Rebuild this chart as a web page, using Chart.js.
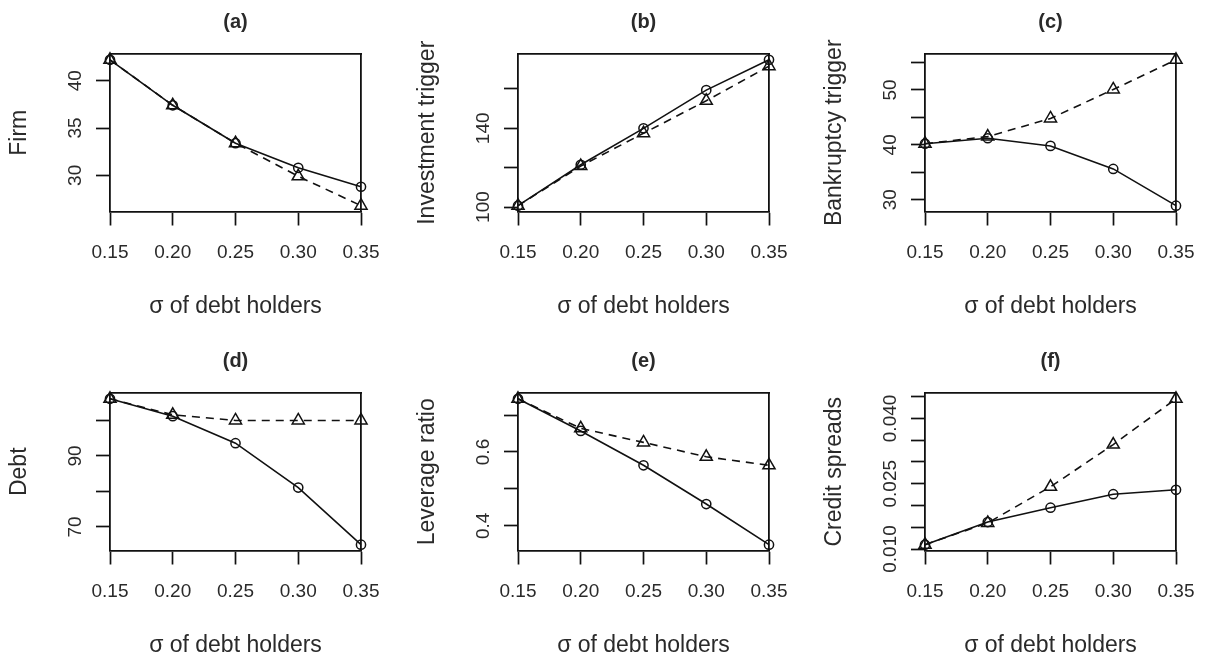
<!DOCTYPE html>
<html>
<head>
<meta charset="utf-8">
<script src="https://cdn.jsdelivr.net/npm/chart.js@4/dist/chart.umd.min.js"></script>
<style>
  body { margin:0; background:#fff; width:1205px; height:659px; overflow:hidden; position:relative; }
  canvas { position:absolute; }
</style>
</head>
<body>
<canvas id="pa" width="390" height="320" style="left:0;top:0"></canvas>
<canvas id="pb" width="390" height="320" style="left:408px;top:0"></canvas>
<canvas id="pc" width="390" height="320" style="left:815px;top:0"></canvas>
<canvas id="pd" width="390" height="320" style="left:0;top:339px"></canvas>
<canvas id="pe" width="390" height="320" style="left:408px;top:339px"></canvas>
<canvas id="pf" width="390" height="320" style="left:815px;top:339px"></canvas>
<script>
// sigma of debt holders (x) and the six panels, circles = solid line, triangles = dashed line
const sigma = [0.15, 0.20, 0.25, 0.30, 0.35];
const xTicks = [0.15, 0.20, 0.25, 0.30, 0.35];
const xTitle = 'σ of debt holders';

const firmSolid  = [42.2, 37.4, 33.4, 30.8, 28.8];
const firmDashed = [42.2, 37.4, 33.4, 29.9, 26.8];
const firmTicks  = [30, 35, 40];
const firmShown  = [30, 35, 40];

const invSolid  = [100.7, 121.5, 140.0, 159.4, 174.8];
const invDashed = [100.7, 120.8, 137.5, 154.0, 171.6];
const invTicks  = [100, 120, 140, 160];
const invShown  = [100, 140];

const bankSolid  = [40.2, 41.2, 39.8, 35.6, 28.9];
const bankDashed = [40.2, 41.5, 44.8, 50.1, 55.5];
const bankTicks  = [30, 35, 40, 45, 50, 55];
const bankShown  = [30, 40, 50];

const debtSolid  = [106.1, 101.2, 93.6, 81.1, 65.0];
const debtDashed = [106.1, 101.6, 100.0, 100.0, 100.0];
const debtTicks  = [70, 80, 90, 100];
const debtShown  = [70, 90];

const levSolid  = [0.744, 0.657, 0.564, 0.459, 0.349];
const levDashed = [0.744, 0.664, 0.626, 0.587, 0.564];
const levTicks  = [0.4, 0.5, 0.6, 0.7];
const levShown  = [0.4, 0.6];

const csSolid  = [0.0110, 0.0162, 0.0195, 0.0226, 0.0236];
const csDashed = [0.0110, 0.0160, 0.0243, 0.0340, 0.0445];
const csTicks  = [0.010, 0.015, 0.020, 0.025, 0.030, 0.035, 0.040, 0.045];
const csShown  = [0.010, 0.025, 0.040];

const FONT = "'Liberation Sans', Arial, sans-serif";
const INK = '#111';
const TXT = '#2a2a2a';
Chart.defaults.font.family = FONT;

const panels = [
  { id:'pa', title:'(a)', yTitle:'Firm',               solid:firmSolid, dashed:firmDashed, ticks:firmTicks, shown:firmShown, dec:0 },
  { id:'pb', title:'(b)', yTitle:'Investment trigger', solid:invSolid,  dashed:invDashed,  ticks:invTicks,  shown:invShown,  dec:0 },
  { id:'pc', title:'(c)', yTitle:'Bankruptcy trigger', solid:bankSolid, dashed:bankDashed, ticks:bankTicks, shown:bankShown, dec:0 },
  { id:'pd', title:'(d)', yTitle:'Debt',               solid:debtSolid, dashed:debtDashed, ticks:debtTicks, shown:debtShown, dec:0 },
  { id:'pe', title:'(e)', yTitle:'Leverage ratio',     solid:levSolid,  dashed:levDashed,  ticks:levTicks,  shown:levShown,  dec:1 },
  { id:'pf', title:'(f)', yTitle:'Credit spreads',     solid:csSolid,   dashed:csDashed,   ticks:csTicks,   shown:csShown,   dec:3 }
];

const meas = document.createElement('canvas').getContext('2d');
meas.font = '19px ' + FONT;

const near = (a, b) => Math.abs(a - b) < 1e-9;

function drawPanel(p) {
  const all = p.solid.concat(p.dashed);
  const lo = Math.min(...all), hi = Math.max(...all);
  const pad = 0.04 * (hi - lo);               // R style axis extension
  const fmt = v => p.shown.some(s => near(s, v)) ? v.toFixed(p.dec) : '';
  const widest = Math.max(...p.shown.map(v => meas.measureText(v.toFixed(p.dec)).width));

  return new Chart(document.getElementById(p.id), {
    type: 'line',
    data: {
      datasets: [
        { data: sigma.map((x, i) => ({ x, y: p.solid[i] })), borderColor: INK, borderWidth: 1.6,
          pointStyle: 'circle', pointRadius: 4.6, pointBorderWidth: 1.5, pointBorderColor: INK,
          pointBackgroundColor: 'rgba(0,0,0,0)', clip: false },
        { data: sigma.map((x, i) => ({ x, y: p.dashed[i] })), borderColor: INK, borderWidth: 1.6, borderDash: [8, 6],
          pointStyle: 'triangle', pointRadius: 7, pointBorderWidth: 1.5, pointBorderColor: INK,
          pointBackgroundColor: 'rgba(0,0,0,0)', clip: false }
      ]
    },
    options: {
      responsive: false, animation: false, events: [],
      layout: { padding: { left: 0, right: 29, top: 0, bottom: 0 } },
      plugins: {
        legend: { display: false }, tooltip: { enabled: false },
        title: { display: true, text: p.title, fullSize: false, color: TXT,
                 font: { size: 20, weight: 'bold', lineHeight: 1.2 }, padding: { top: 10, bottom: 20 } }
      },
      scales: {
        x: {
          type: 'linear', min: 0.15, max: 0.35,
          afterBuildTicks: s => { s.ticks = xTicks.map(v => ({ value: v })); },
          afterFit: s => { s.height = 108.5; s.paddingLeft = 0; s.paddingRight = 0; },
          grid: { drawOnChartArea: false, tickLength: 14, tickWidth: 1.7, tickColor: INK },
          border: { display: true, color: INK, width: 1.8 },
          ticks: { color: TXT, font: { size: 19, lineHeight: 1.2 }, padding: 15.6, maxRotation: 0, autoSkip: false,
                   callback: v => v.toFixed(2) },
          title: { display: true, text: xTitle, color: TXT, font: { size: 23, lineHeight: 1 }, padding: { top: 0, bottom: 1.5 } }
        },
        y: {
          type: 'linear', min: lo - pad, max: hi + pad,
          afterBuildTicks: s => { s.ticks = p.ticks.map(v => ({ value: v })); },
          afterFit: s => { s.width = 110; s.paddingTop = 0; s.paddingBottom = 0; },
          grid: { drawOnChartArea: false, tickLength: 14, tickWidth: 1.7, tickColor: INK },
          border: { display: true, color: INK, width: 1.8 },
          ticks: { color: TXT, font: { size: 19, lineHeight: 1.2 }, minRotation: 90, maxRotation: 90,
                   crossAlign: 'center', padding: 20.5 - widest / 2, autoSkip: false, callback: fmt },
          title: { display: true, text: p.yTitle, color: TXT, font: { size: 23, lineHeight: 1 }, padding: { top: 8, bottom: 0 } }
        },
        xTop: {
          type: 'linear', position: 'top', afterFit: s => { s.height = 0; s.paddingLeft = 0; s.paddingRight = 0; },
          ticks: { display: false }, grid: { display: false, drawTicks: false },
          border: { display: true, color: INK, width: 1.8 }
        },
        yRight: {
          type: 'linear', position: 'right', afterFit: s => { s.width = 0; s.paddingTop = 0; s.paddingBottom = 0; },
          ticks: { display: false }, grid: { display: false, drawTicks: false },
          border: { display: true, color: INK, width: 1.8 }
        }
      }
    }
  });
}

panels.forEach(drawPanel);
</script>
</body>
</html>
